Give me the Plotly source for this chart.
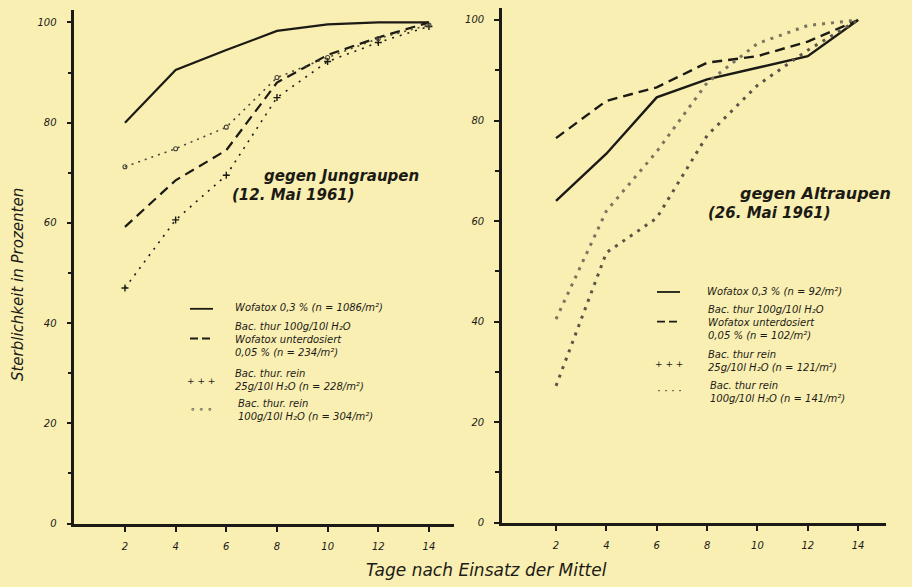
import plotly.graph_objects as go

# Tage nach Einsatz der Mittel
tage = [2, 4, 6, 8, 10, 12, 14]

# Jungraupen (12. Mai 1961), Sterblichkeit in %
jung_wofatox = [80, 90.5, 94.5, 98.3, 99.6, 100, 100]
jung_kombi = [59.2, 68.5, 74.5, 88, 93.5, 97, 100]
jung_bt25 = [47, 60.6, 69.5, 85, 92.2, 96, 99.2]
jung_bt100 = [71.2, 74.8, 79.1, 89, 93, 96.8, 99.5]

# Altraupen (26. Mai 1961), Sterblichkeit in %
alt_wofatox = [64, 73.4, 84.6, 88.2, 90.5, 92.8, 100]
alt_kombi = [76.5, 83.9, 86.6, 91.5, 92.8, 95.7, 100]
alt_bt25 = [27.2, 53.7, 60.6, 77, 87, 94, 100]
alt_bt100 = [40.5, 62, 73.8, 87.5, 95.3, 98.9, 100]

x_ticks = [2, 4, 6, 8, 10, 12, 14]
y_ticks = [0, 20, 40, 60, 80, 100]

W, H = 912, 587
INK = "#1c1a14"
PAPER = "#f9efb3"
FONT = "DejaVu Sans"


def px(x):
    return x / W


def py(y):
    return 1 - y / H


fig = go.Figure()


def add_series(xa, ya, y, dash, width, marker=None, color=INK):
    tr = dict(x=tage, y=y, xaxis=xa, yaxis=ya, showlegend=False,
              line=dict(color=color, width=width, dash=dash),
              hoverinfo="skip")
    if marker:
        tr["mode"] = "lines+markers"
        tr["marker"] = marker
    else:
        tr["mode"] = "lines"
    fig.add_trace(go.Scatter(**tr))


# linke Grafik
add_series("x", "y", jung_wofatox, "solid", 2.2)
add_series("x", "y", jung_kombi, "10px,6px", 2.2)
add_series("x", "y", jung_bt25, "2px,6px", 1.6,
           dict(symbol="cross-thin", size=5, line=dict(color=INK, width=1.4)))
add_series("x", "y", jung_bt100, "2px,5px", 1.6,
           dict(symbol="circle-open", size=4, color="#4a463a",
                line=dict(color="#4a463a", width=1.1)), color="#4a463a")

# rechte Grafik
add_series("x2", "y2", alt_wofatox, "solid", 2.4)
add_series("x2", "y2", alt_kombi, "10px,6px", 2.4)
add_series("x2", "y2", alt_bt25, "3px,6px", 3, color="#5a5546")
add_series("x2", "y2", alt_bt100, "3px,6px", 3, color="#7a7460")

tickfont = dict(family=FONT, size=10, color=INK, style="italic")


def xaxis(domain, rng):
    return dict(domain=domain, range=rng, tickvals=x_ticks,
                ticks="outside", ticklen=6, tickwidth=2, tickcolor=INK,
                showline=True, linecolor=INK, linewidth=2.5,
                showgrid=False, zeroline=False, tickfont=tickfont,
                ticklabelstandoff=6, fixedrange=True)


def yaxis(domain, rng, anchor):
    return dict(domain=domain, range=rng, tickvals=y_ticks, anchor=anchor,
                ticks="outside", ticklen=5, tickwidth=2, tickcolor=INK,
                minor=dict(tickvals=[10, 30, 50, 70, 90], ticks="outside",
                           ticklen=4, tickwidth=2, tickcolor=INK),
                showline=True, linecolor=INK, linewidth=2.5,
                showgrid=False, zeroline=False, tickfont=tickfont,
                ticklabelstandoff=8, fixedrange=True)


fig.update_layout(
    width=W, height=H,
    margin=dict(l=0, r=0, t=0, b=0),
    paper_bgcolor=PAPER, plot_bgcolor=PAPER,
    xaxis=dict(**xaxis([px(74.3), px(454.3)], [0, 15]), anchor="y"),
    yaxis=yaxis([py(529), py(10)], [0, 102.5], "x"),
    xaxis2=dict(**xaxis([px(501.9), px(885.8)], [-0.15, 15.1]), anchor="y2"),
    yaxis2=yaxis([py(528), py(8)], [0, 102.4], "x2"),
)

annotations = []
shapes = []


def text(x, y, s, size=10, bold=False, xanchor="left", angle=0):
    annotations.append(dict(
        x=px(x), y=py(y), xref="paper", yref="paper", text=s,
        showarrow=False, xanchor=xanchor, yanchor="middle", textangle=angle,
        align="left",
        font=dict(family=FONT, size=size, color=INK, style="italic",
                  weight=700 if bold else 400)))


# Titel der Teilgrafiken
text(262, 178, "gegen Jungraupen", 15, True)
text(230, 197, "(12. Mai 1961)", 15, True)
text(738, 195, "gegen Altraupen", 16, True)
text(706, 215, "(26. Mai 1961)", 15, True)

# Achsentitel
text(18, 288, "Sterblichkeit in Prozenten", 15, xanchor="center", angle=-90)
text(487, 576, "Tage nach Einsatz der Mittel", 17, xanchor="center")


def swatch_line(x0, x1, y, dash):
    shapes.append(dict(type="line", xref="paper", yref="paper",
                       x0=px(x0), x1=px(x1), y0=py(y), y1=py(y),
                       line=dict(color=INK, width=1.8, dash=dash)))


# Legende links
swatch_line(190, 213, 312, "solid")
text(233, 311, "Wofatox 0,3 % (n = 1086/m²)")
swatch_line(190, 213, 342, "8px,4px")
text(233, 343, "Bac. thur 100g/10l H₂O<br>Wofatox unterdosiert<br>0,05 % (n = 234/m²)")
text(201, 385, "+ + +", 9, xanchor="center")
text(233, 384, "Bac. thur. rein<br>25g/10l H₂O (n = 228/m²)")
text(201, 413, "∘ ∘ ∘", 9, xanchor="center")
text(236, 414, "Bac. thur. rein<br>100g/10l H₂O (n = 304/m²)")

# Legende rechts
swatch_line(657, 680, 295, "solid")
text(705, 295, "Wofatox 0,3 % (n = 92/m²)")
swatch_line(657, 680, 325, "8px,4px")
text(706, 326, "Bac. thur 100g/10l H₂O<br>Wofatox unterdosiert<br>0,05 % (n = 102/m²)")
text(669, 368, "+ + +", 9, xanchor="center")
text(706, 365, "Bac. thur rein<br>25g/10l H₂O (n = 121/m²)")
text(669, 395, "· · · ·", 11, xanchor="center")
text(708, 396, "Bac. thur rein<br>100g/10l H₂O (n = 141/m²)")

fig.update_layout(annotations=annotations, shapes=shapes)

fig.write_html("out.html")
